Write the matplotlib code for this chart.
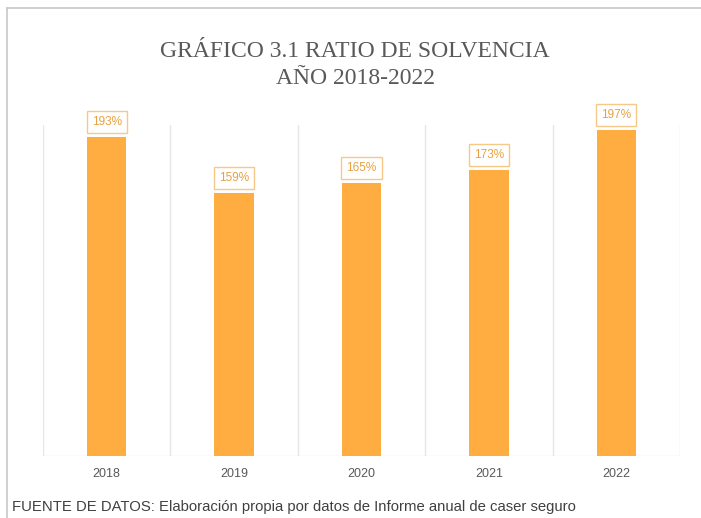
import matplotlib.pyplot as plt
from matplotlib.lines import Line2D

years = ["2018", "2019", "2020", "2021", "2022"]
ratio = [193, 159, 165, 173, 197]
title_text = "GRÁFICO 3.1 RATIO DE SOLVENCIA\nAÑO 2018-2022"
source_text = "FUENTE DE DATOS: Elaboración propia por datos de Informe anual de caser seguro"

W, H = 701, 518
fig = plt.figure(figsize=(W / 100, H / 100), dpi=100)
fig.patch.set_facecolor("white")

# chart frame: top and left edges
fig.add_artist(Line2D([7 / W, 1.0], [1 - 8 / H, 1 - 8 / H], color="#c8c8c8", lw=1.2))
fig.add_artist(Line2D([7 / W, 7 / W], [0.0, 1 - 8 / H], color="#c8c8c8", lw=1.2))

left, right, top, bottom = 43, 680, 125, 456
ax = fig.add_axes([left / W, 1 - bottom / H, (right - left) / W, (bottom - top) / H])

x = range(len(years))
bar_w = 0.31
bars = ax.bar(x, ratio, width=bar_w, color="#FFAD40", zorder=3)

ax.set_xlim(-0.5, len(years) - 0.5)
ax.set_ylim(0, 200)

# category separators
for b in [i - 0.5 for i in range(len(years) + 1)]:
    ax.axvline(b, color="#e6e6e6", lw=1, zorder=1)
ax.axhline(0, color="#e6e6e6", lw=1, zorder=1)

for s in ax.spines.values():
    s.set_visible(False)
ax.set_yticks([])
ax.set_xticks(list(x))
ax.set_xticklabels(years, fontsize=9, color="#595959", family="Liberation Sans")
ax.tick_params(axis="x", length=0, pad=8.5)

for i, v in enumerate(ratio):
    ax.annotate(f"{v}%", (i, v), xytext=(0, 10.5), textcoords="offset points",
                ha="center", va="center", fontsize=8.5, color="#E8A040",
                family="Liberation Sans", zorder=4,
                bbox=dict(boxstyle="square,pad=0.42", fc="white", ec="#F6C988", lw=1))

fig.text(355 / W, 1 - 65 / H, title_text, ha="center", va="center",
         fontsize=17, color="#595959", family="Liberation Serif", linespacing=1.32)

fig.text(12 / W, 1 - 507 / H, source_text, ha="left", va="center",
         fontsize=10.7, color="#404040", family="Liberation Sans")

fig.savefig("out.png", dpi=100)
